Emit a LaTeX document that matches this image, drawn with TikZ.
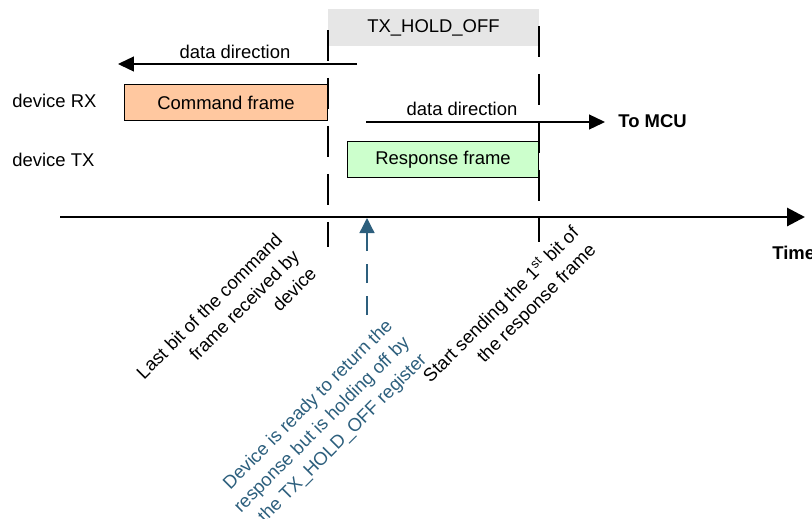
\documentclass[tikz,border=0pt]{standalone}
\usepackage{fontspec}
\setmainfont{Liberation Sans}
\usetikzlibrary{arrows.meta,positioning}
\definecolor{CmdOrange}{RGB}{255,200,160}
\definecolor{RespGreen}{RGB}{204,255,204}
\definecolor{HoldGray}{RGB}{230,230,230}
\definecolor{NoteBlue}{RGB}{45,95,125}

\begin{document}
\begin{tikzpicture}[x=0.02cm, y=-0.02cm,
    font=\fontsize{10.5}{13.7}\selectfont,
    lbl/.style={anchor=west, inner sep=0},
    frame/.style={draw, line width=1.1pt, minimum height=0.72cm, inner sep=0},
    guide/.style={line width=0.8pt, dash pattern=on 0.62cm off 0.34cm},
    dirarrow/.style={line width=0.75pt, -{Triangle[length=0.32cm, width=0.3cm]}},
    note/.style={rotate=45, align=right, inner sep=0}]
    \clip (0,0) rectangle (812,518);

    % Hold-off window
    \node[fill=HoldGray, minimum width=4.22cm, minimum height=0.74cm, inner sep=0]
      (hold) at (433.5,27.5) {TX\_HOLD\_OFF};
    \coordinate (lastTop) at (328,30);
    \coordinate (lastBot) at (328,247);
    \coordinate (sendTop) at (539,26);
    \coordinate (sendBot) at (539,242);
    \draw[guide] (lastTop) -- (lastBot);
    \draw[guide] (sendTop) -- (sendBot);

    % Frames
    \node[lbl] (rxlbl) at (12,101) {device RX};
    \node[lbl] (txlbl) at (12,160) {device TX};
    \node[frame, fill=CmdOrange, minimum width=4.06cm] (cmd) at (226,102.5) {Command frame};
    \node[frame, fill=RespGreen, minimum width=3.82cm] (resp) at (443,159.5) {Response frame};

    % Data direction
    \coordinate (rxStart) at (357,64);
    \coordinate (rxEnd) at (118,64);
    \draw[dirarrow] (rxStart) -- (rxEnd);
    \node (rxdir) at (235,52) {data direction};
    \coordinate (txStart) at (366,122);
    \coordinate (txEnd) at (605,122);
    \draw[dirarrow] (txStart) -- (txEnd);
    \node (txdir) at (462,109) {data direction};
    \node[lbl] (mcu) at (618,121) {\bfseries To MCU};

    % Time axis
    \coordinate (t0) at (60,217);
    \coordinate (t1) at (805,217);
    \draw[line width=1.7pt, -{Triangle[length=0.36cm, width=0.36cm]}] (t0) -- (t1);
    \node[lbl] (time) at (772,253) {\bfseries Time};

    % Events
    \node[note, anchor=north east] (lastbit) at (274,231)
      {Last bit of the command\\frame received by\\device};
    \node[note, anchor=north east] (firstbit) at (569,223)
      {Start sending the 1\textsuperscript{st} bit of\\the response frame};
    \node[note, anchor=north east, text=NoteBlue] (ready) at (384,317)
      {Device is ready to return the\\response but is holding off by\\the TX\_HOLD\_OFF register};
    \coordinate (readyTop) at (367,315);
    \coordinate (readyAxis) at (367,218);
    \draw[NoteBlue, line width=0.75pt, dash pattern=on 0.38cm off 0.26cm,
      -{Triangle[length=0.3cm, width=0.3cm]}] (readyTop) -- (readyAxis);
  \end{tikzpicture}
\end{document}
